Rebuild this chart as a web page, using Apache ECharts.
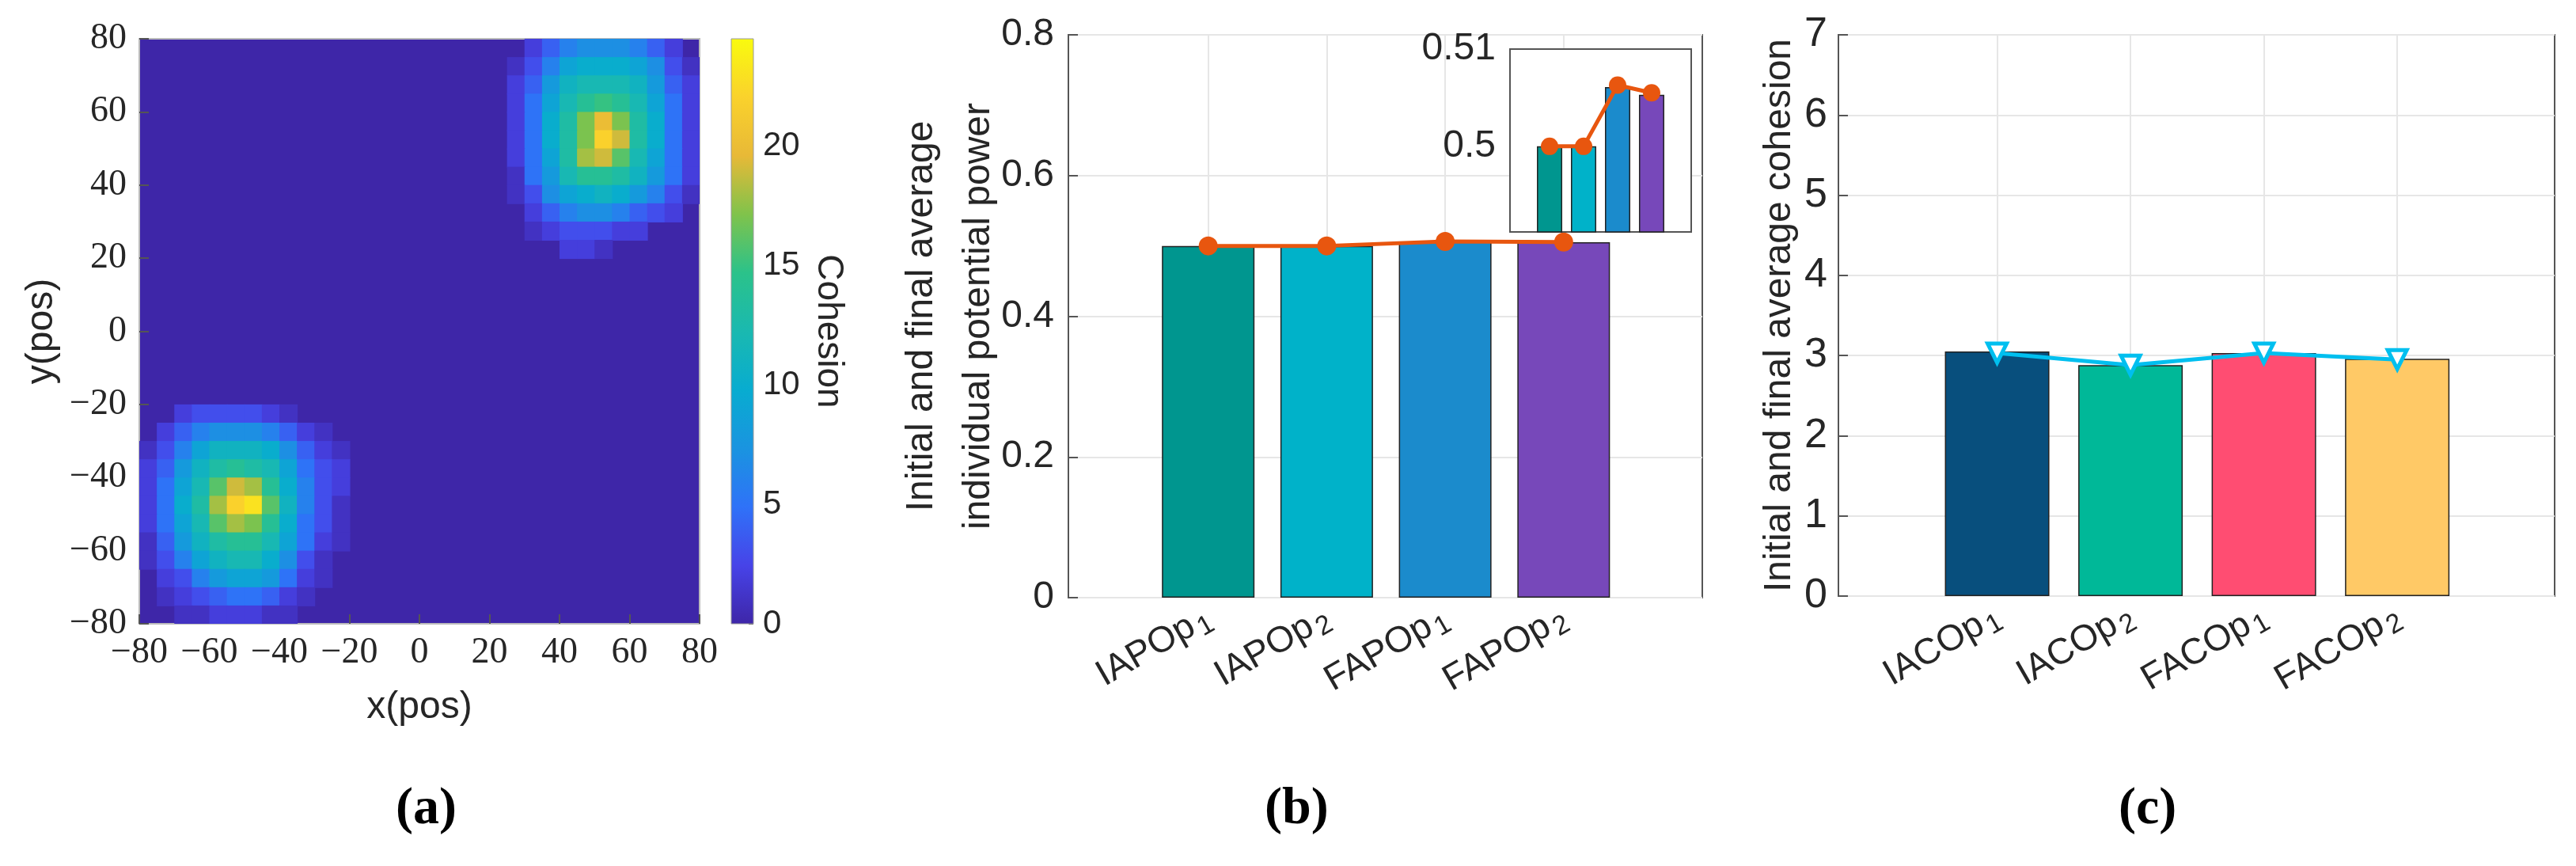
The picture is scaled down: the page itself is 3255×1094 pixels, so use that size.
<!DOCTYPE html>
<html>
<head>
<meta charset="utf-8">
<script src="https://cdn.jsdelivr.net/npm/echarts@6/dist/echarts.min.js"></script>
<style>html,body{margin:0;background:#fff}#main{width:3255px;height:1094px}</style>
</head>
<body>
<div id="main"></div>
<script>
// panel (a): cohesion map, 5-unit cells, rows listed top -> bottom
var blobAx = [25, 30, 35, 40, 45, 50, 55, 60, 65, 70, 75];
var blobAy = [75, 70, 65, 60, 55, 50, 45, 40, 35, 30, 25, 20];
var blobA = [
    [0, 2, 4, 6, 7, 7, 7, 6, 4, 2, 0],
    [1, 3, 6, 9, 10, 10, 10, 9, 7, 3, 1],
    [2, 4, 8, 11, 12, 12, 12, 11, 8, 4, 2],
    [2, 5, 9, 12, 14, 15, 14, 12, 9, 5, 2],
    [2, 5, 10, 13, 17, 20, 17, 13, 10, 5, 2],
    [2, 5, 10, 13, 17, 22, 19, 13, 10, 5, 2],
    [2, 5, 9, 13, 18, 19, 16, 12, 9, 5, 2],
    [1, 5, 8, 12, 14, 14, 13, 11, 8, 5, 2],
    [1, 3, 7, 9, 10, 11, 10, 8, 6, 3, 1],
    [0, 2, 4, 6, 7, 7, 6, 4, 3, 2, 0],
    [0, 1, 2, 3, 3, 3, 2, 2, 0, 0, 0],
    [0, 0, 0, 2, 2, 1, 0, 0, 0, 0, 0]
];
var blobBx = [-80, -75, -70, -65, -60, -55, -50, -45, -40, -35, -30, -25];
var blobBy = [-25, -30, -35, -40, -45, -50, -55, -60, -65, -70, -75, -80];
var blobB = [
    [0, 0, 2, 3, 3, 3, 3, 2, 1, 0, 0, 0],
    [0, 2, 4, 6, 7, 7, 7, 6, 4, 2, 1, 0],
    [1, 3, 6, 9, 11, 11, 11, 10, 7, 4, 2, 1],
    [2, 4, 8, 11, 13, 14, 13, 12, 9, 5, 3, 2],
    [2, 5, 9, 12, 16, 19, 18, 14, 10, 6, 3, 2],
    [2, 5, 10, 13, 18, 22, 23, 16, 11, 6, 3, 1],
    [2, 5, 9, 12, 16, 18, 17, 14, 10, 5, 3, 1],
    [1, 4, 8, 11, 13, 14, 14, 12, 9, 5, 2, 1],
    [1, 3, 6, 9, 11, 12, 12, 10, 7, 3, 1, 0],
    [0, 2, 3, 6, 8, 9, 9, 8, 5, 2, 1, 0],
    [0, 1, 2, 3, 4, 5, 5, 4, 2, 1, 0, 0],
    [0, 0, 1, 1, 2, 2, 2, 1, 1, 0, 0, 0]
];
var cohesionMax = 24.5;

// panel (b)
var potCats = ['IAPOp|1', 'IAPOp|2', 'FAPOp|1', 'FAPOp|2'];
var potBars = [0.5, 0.5, 0.5061, 0.5053];
var potLine = [0.5, 0.5, 0.5063, 0.5055];

// panel (c)
var cohCats = ['IACOp|1', 'IACOp|2', 'FACOp|1', 'FACOp|2'];
var cohBars = [3.05, 2.88, 3.03, 2.96];
var cohLine = [3.03, 2.88, 3.03, 2.95];

var potColors = ['#00968F', '#00B2C9', '#1B8BCC', '#7748BA'];
var cohColors = ['#084F7D', '#00B898', '#FF4D72', '#FFC966'];
var parula = ['#3E26A8', '#4743E8', '#2F72F8', '#1A94E0', '#08ACD0', '#1AB9B0',
              '#2BC28A', '#80C34B', '#E8B937', '#FAD22C', '#F9FB0E'];

function cells(xs, ys, m) {
    var out = [];
    for (var r = 0; r < ys.length; r++)
        for (var c = 0; c < xs.length; c++)
            if (m[r][c] > 0) out.push([xs[c], ys[r], m[r][c]]);
    return out;
}
var mapData = cells(blobAx, blobAy, blobA).concat(cells(blobBx, blobBy, blobB));

var sans = 'Liberation Sans', serif = 'Liberation Serif';
var txt = '#262626', frame = '#555';

function catLabel(cats) {
    return {
        customValues: [1, 2, 3, 4], rotate: 30, margin: 22, color: txt,
        fontFamily: sans, fontSize: 46,
        formatter: function (v) {
            var p = cats[Math.round(v) - 1].split('|');
            return p[0] + '{s|' + p[1] + '}';
        },
        rich: { s: { fontSize: 34, fontFamily: sans, color: txt, padding: [22, 0, 0, 4] } }
    };
}
function pairs(vals) {
    return vals.map(function (v, i) { return [i + 1, v]; });
}
function barData(vals, colors) {
    return vals.map(function (v, i) {
        return { value: [i + 1, v], itemStyle: { color: colors[i] } };
    });
}
var tickIn = { inside: true, length: 12, lineStyle: { color: frame, width: 2 } };
var noLine = { show: false, onZero: false };
var grey = { lineStyle: { color: '#e6e6e6', width: 2 } };
function minus(v) { return String(v).replace('-', '\u2212'); }

var dom = document.getElementById('main');
var myChart = echarts.init(dom);

var option = {
    animation: false,
    grid: [
        { left: 176, top: 49, width: 708, height: 739, show: true, backgroundColor: parula[0], borderColor: '#bbb', borderWidth: 2 },
        { left: 924, top: 49, width: 28, height: 739 },
        { left: 1350, top: 44, width: 801, height: 711, show: true, borderColor: frame, borderWidth: 2 },
        { left: 1908, top: 62, width: 229, height: 231, show: true, backgroundColor: '#fff', borderColor: frame, borderWidth: 2, z: 5 },
        { left: 2323, top: 44, width: 905, height: 709, show: true, borderColor: frame, borderWidth: 2 }
    ],
    xAxis: [
        { gridIndex: 0, type: 'value', min: -80, max: 80, interval: 20, axisLine: noLine,
          axisTick: tickIn, splitLine: { show: false },
          axisLabel: { color: txt, fontFamily: serif, fontSize: 46, margin: 14, formatter: minus },
          name: 'x(pos)', nameLocation: 'middle', nameGap: 82, nameMoveOverlap: false,
          nameTextStyle: { color: txt, fontFamily: sans, fontSize: 48, verticalAlign: 'top' } },
        { gridIndex: 1, type: 'value', min: 0, max: 1, show: false },
        { gridIndex: 2, type: 'value', min: -0.18, max: 5.17, axisLine: noLine,
          axisTick: { show: true, customValues: [1, 2, 3, 4], inside: true, length: 12, lineStyle: { color: frame, width: 2 } },
          splitLine: { show: true, lineStyle: { color: '#e6e6e6', width: 2 } }, axisLabel: catLabel(potCats) },
        { gridIndex: 3, type: 'value', min: -0.164, max: 5.164, axisLine: noLine,
          axisTick: { show: false }, splitLine: { show: false }, axisLabel: { show: false } },
        { gridIndex: 4, type: 'value', min: -0.19, max: 5.18, axisLine: noLine,
          axisTick: { show: true, customValues: [1, 2, 3, 4], inside: true, length: 12, lineStyle: { color: frame, width: 2 } },
          splitLine: { show: true, lineStyle: { color: '#e6e6e6', width: 2 } }, axisLabel: catLabel(cohCats) }
    ],
    yAxis: [
        { gridIndex: 0, type: 'value', min: -80, max: 80, interval: 20, axisLine: noLine,
          axisTick: tickIn, splitLine: { show: false },
          axisLabel: { color: txt, fontFamily: serif, fontSize: 46, margin: 16, formatter: minus },
          name: 'y(pos)', nameLocation: 'middle', nameGap: 99, nameRotate: 90, nameMoveOverlap: false,
          nameTextStyle: { color: txt, fontFamily: sans, fontSize: 48, verticalAlign: 'bottom' } },
        { gridIndex: 1, type: 'value', min: 0, max: cohesionMax, interval: 5, position: 'right',
          axisLine: noLine, axisTick: { show: true, inside: true, length: 6, lineStyle: { color: '#555' } },
          splitLine: { show: false }, axisLabel: { color: txt, fontFamily: sans, fontSize: 42, margin: 12, showMaxLabel: false },
          name: 'Cohesion', nameLocation: 'middle', nameGap: 72, nameRotate: -90, nameMoveOverlap: false,
          nameTextStyle: { color: txt, fontFamily: sans, fontSize: 46, verticalAlign: 'bottom' } },
        { gridIndex: 2, type: 'value', min: 0, max: 0.8, interval: 0.2, axisLine: noLine,
          axisTick: tickIn, splitLine: grey,
          axisLabel: { color: txt, fontFamily: sans, fontSize: 48, margin: 18, formatter: function (v) { return v === 0 ? '0' : v.toFixed(1); } },
          name: 'Initial and final average\nindividual potential power', nameLocation: 'middle', nameGap: 77, nameRotate: 90, nameMoveOverlap: false,
          nameTextStyle: { color: txt, fontFamily: sans, fontSize: 48, lineHeight: 72, verticalAlign: 'bottom' } },
        { gridIndex: 3, type: 'value', min: 0.4912, max: 0.51, axisLine: noLine,
          axisTick: { show: true, customValues: [0.5, 0.51], inside: true, length: 10, lineStyle: { color: frame, width: 2 } },
          splitLine: { show: true, lineStyle: { color: '#e6e6e6', width: 2 } },
          axisLabel: { customValues: [0.5, 0.51], color: txt, fontFamily: sans, fontSize: 48, margin: 18, formatter: function (v) { return v === 0.5 ? '0.5' : '0.51'; } } },
        { gridIndex: 4, type: 'value', min: 0, max: 7, interval: 1, axisLine: noLine,
          axisTick: tickIn, splitLine: grey,
          axisLabel: { color: txt, fontFamily: sans, fontSize: 52, margin: 14 },
          name: 'Initial and final average cohesion', nameLocation: 'middle', nameGap: 50, nameRotate: 90, nameMoveOverlap: false,
          nameTextStyle: { color: txt, fontFamily: sans, fontSize: 48, verticalAlign: 'bottom' } }
    ],
    visualMap: { show: false, seriesIndex: 0, dimension: 2, min: 0, max: cohesionMax, inRange: { color: parula } },
    series: [
        {
            type: 'custom', xAxisIndex: 0, yAxisIndex: 0, data: mapData,
            renderItem: function (params, api) {
                var p0 = api.coord([api.value(0), api.value(1) + 5]);
                var p1 = api.coord([api.value(0) + 5, api.value(1)]);
                var r = echarts.graphic.clipRectByRect({ x: p0[0], y: p0[1], width: p1[0] - p0[0] + 1, height: p1[1] - p0[1] + 1 },
                    { x: params.coordSys.x, y: params.coordSys.y, width: params.coordSys.width, height: params.coordSys.height });
                return r && { type: 'rect', shape: r, style: { fill: api.visual('color') } };
            }
        },
        {
            type: 'custom', xAxisIndex: 1, yAxisIndex: 1, data: [[0, cohesionMax]],
            renderItem: function (params, api) {
                var a = api.coord([0, cohesionMax]), b = api.coord([1, 0]);
                var stops = parula.map(function (c, i) { return { offset: 1 - i / (parula.length - 1), color: c }; }).reverse();
                return { type: 'rect', shape: { x: a[0], y: a[1], width: b[0] - a[0], height: b[1] - a[1] },
                    style: { fill: new echarts.graphic.LinearGradient(0, 0, 0, 1, stops), stroke: '#999', lineWidth: 1 } };
            }
        },
        { type: 'bar', xAxisIndex: 2, yAxisIndex: 2, data: barData(potBars, potColors), barWidth: 117,
          itemStyle: { borderColor: '#222', borderWidth: 1.5 } },
        { type: 'line', xAxisIndex: 2, yAxisIndex: 2, data: pairs(potLine), symbol: 'circle', symbolSize: 24,
          lineStyle: { color: '#E8560F', width: 5 }, itemStyle: { color: '#E8560F' }, z: 4 },
        { type: 'bar', xAxisIndex: 3, yAxisIndex: 3, data: barData(potBars, potColors), barWidth: 32,
          itemStyle: { borderColor: '#222', borderWidth: 1.5 }, z: 6 },
        { type: 'line', xAxisIndex: 3, yAxisIndex: 3, data: pairs(potLine), symbol: 'circle', symbolSize: 22,
          lineStyle: { color: '#E8560F', width: 5 }, itemStyle: { color: '#E8560F' }, z: 7 },
        { type: 'bar', xAxisIndex: 4, yAxisIndex: 4, data: barData(cohBars, cohColors), barWidth: 132,
          itemStyle: { borderColor: '#222', borderWidth: 1.5 } },
        { type: 'line', xAxisIndex: 4, yAxisIndex: 4, data: pairs(cohLine), symbol: 'triangle', symbolRotate: 180, symbolSize: 24,
          lineStyle: { color: '#00BFEF', width: 5 }, itemStyle: { color: '#fff', borderColor: '#00BFEF', borderWidth: 5 }, z: 4 }
    ],
    graphic: [
        { type: 'text', left: 500, top: 990, style: { text: '(a)', font: 'bold 66px "Liberation Serif"', fill: '#000' } },
        { type: 'text', left: 1598, top: 990, style: { text: '(b)', font: 'bold 66px "Liberation Serif"', fill: '#000' } },
        { type: 'text', left: 2677, top: 990, style: { text: '(c)', font: 'bold 66px "Liberation Serif"', fill: '#000' } }
    ]
};

if (option && typeof option === "object") {
    myChart.setOption(option, true);
}
window.addEventListener("resize", function () {
    myChart.resize();
});
</script>
</body>
</html>
